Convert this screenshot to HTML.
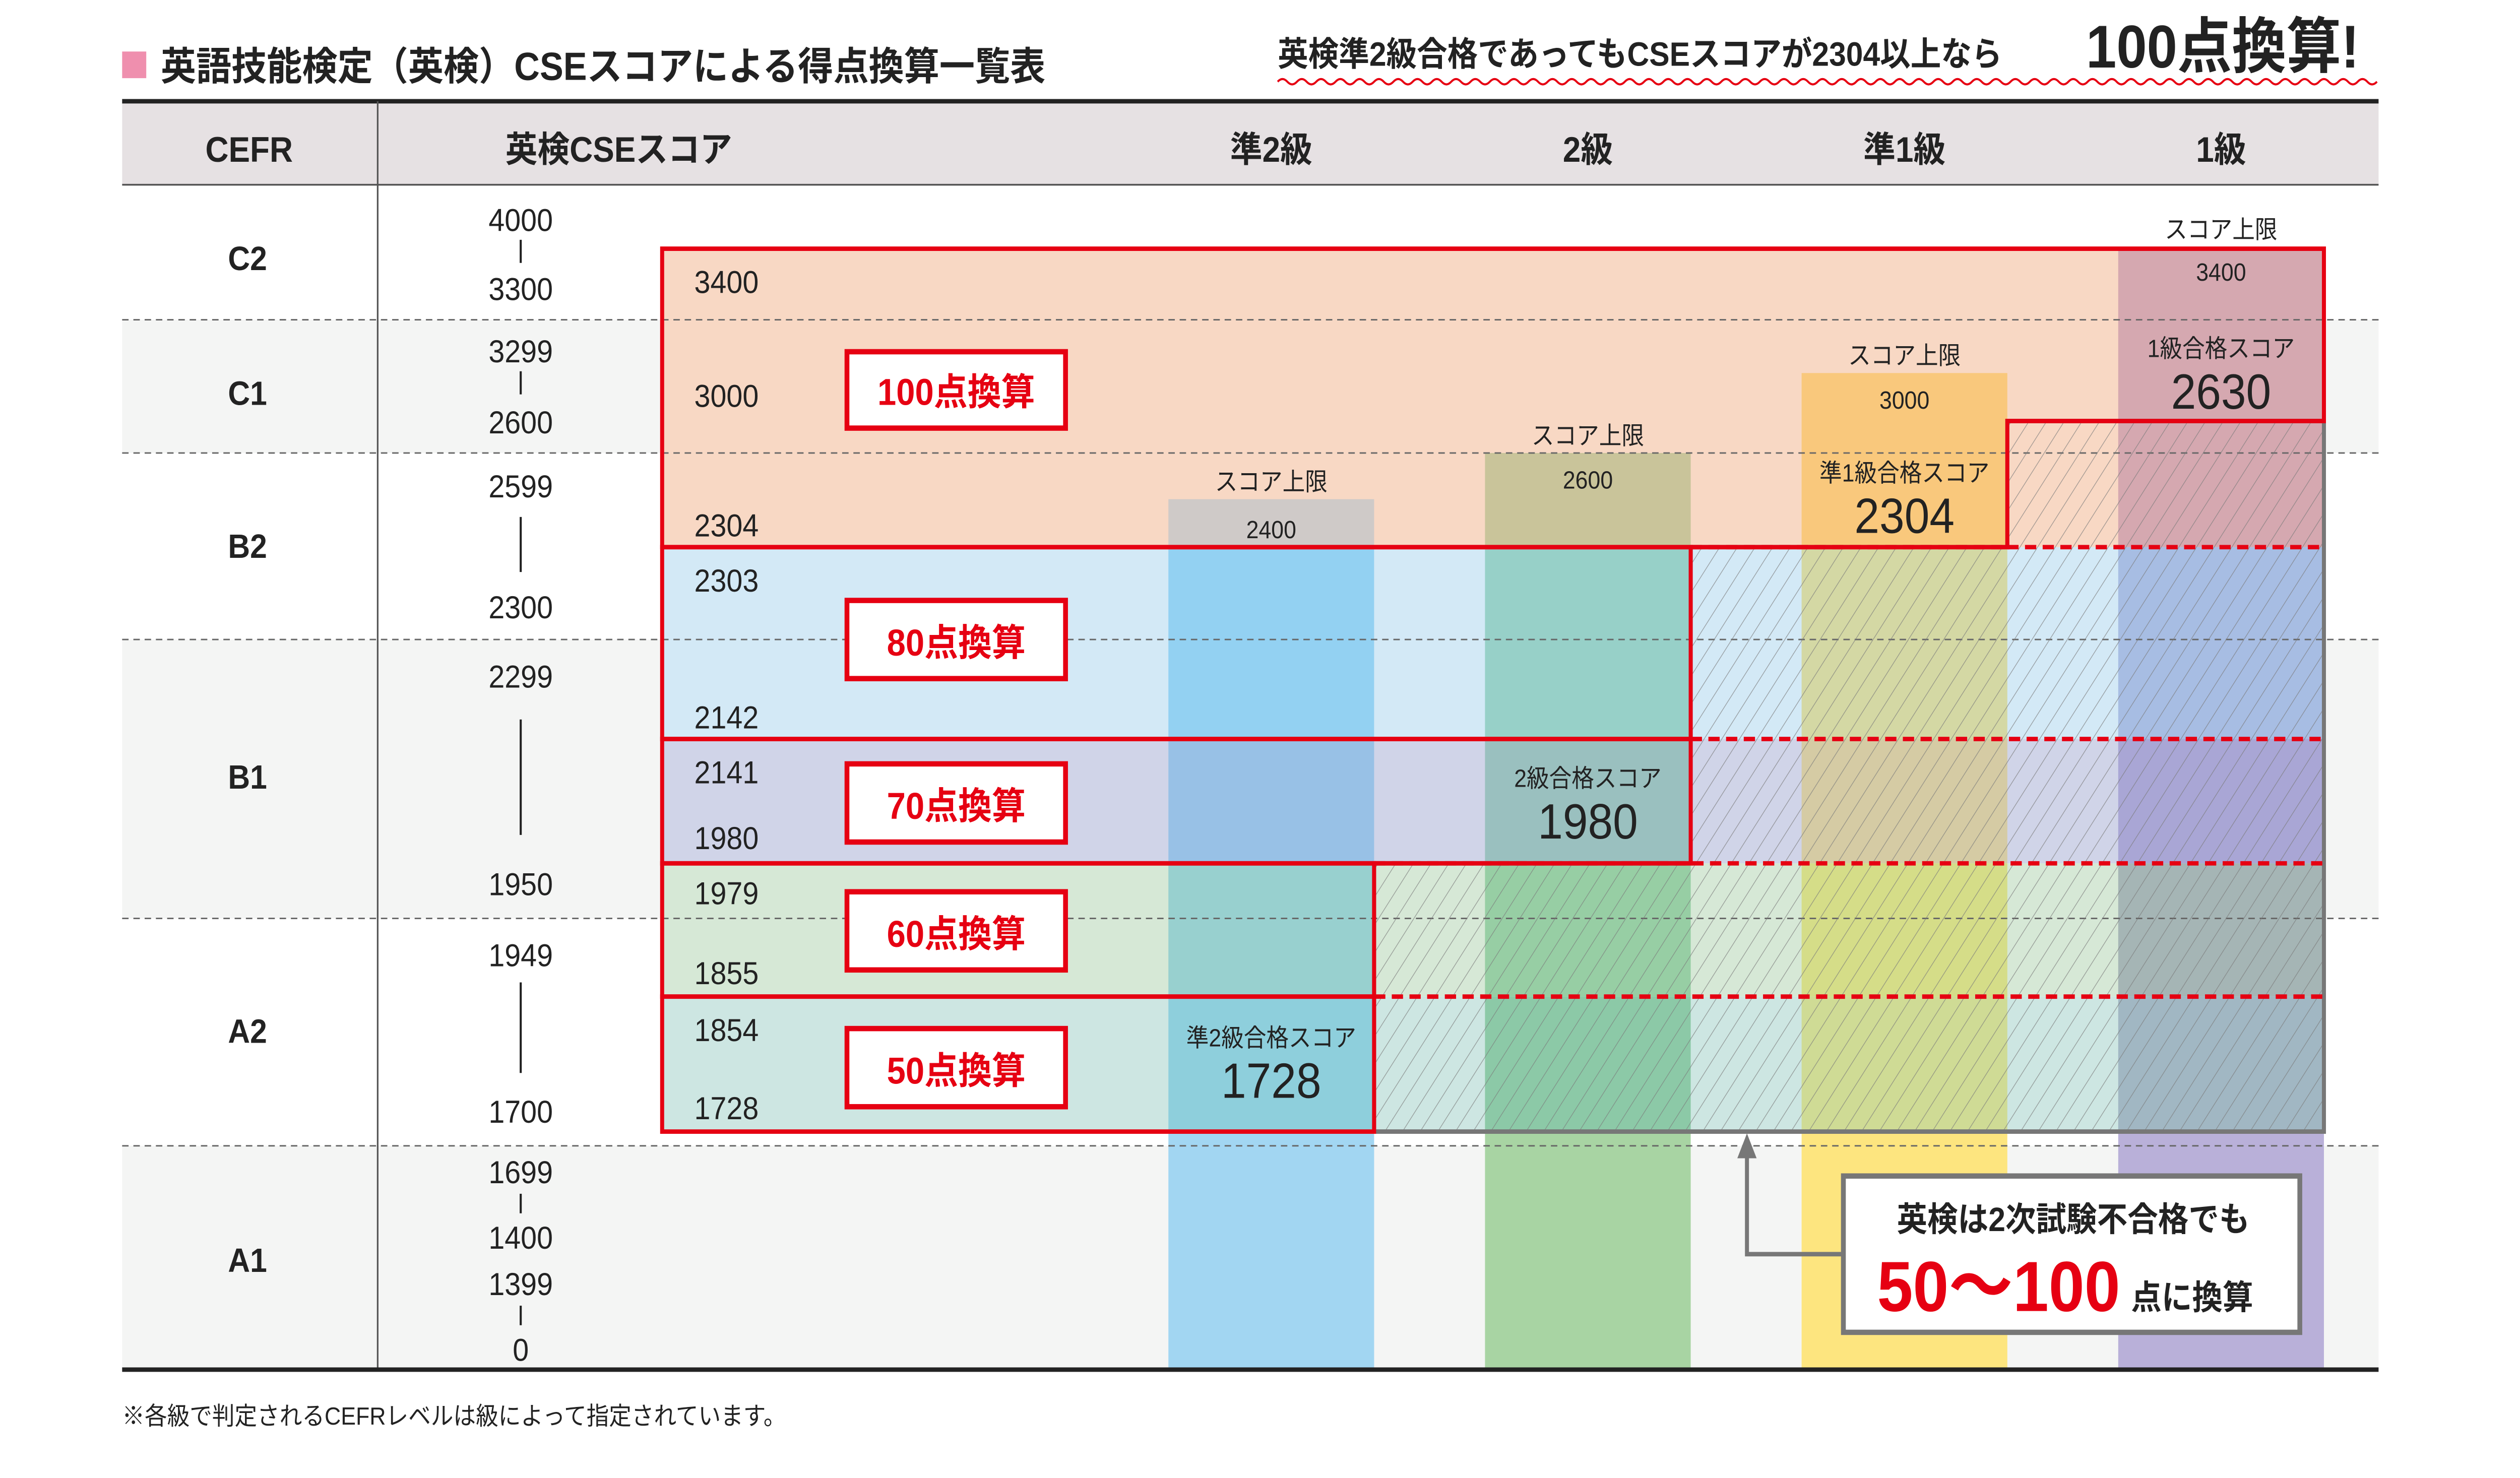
<!DOCTYPE html>
<html><head><meta charset="utf-8"><style>
html,body{margin:0;padding:0;background:#fff;overflow:hidden;width:100%;height:100%}
svg{display:block;position:fixed;left:0;top:0;width:100vw;height:100vh}
text{font-family:"Liberation Sans","Noto Sans CJK JP",sans-serif}
</style></head><body>
<svg viewBox="0 0 1568 832" preserveAspectRatio="none" xmlns="http://www.w3.org/2000/svg">
<defs>
<pattern id="h" patternUnits="userSpaceOnUse" width="9" height="9" patternTransform="rotate(35)">
<line x1="0" y1="0" x2="0" y2="9" stroke="#7a7a7a" stroke-width="0.8" opacity="0.7"/>
</pattern>
</defs>
<rect width="1568" height="832" fill="#fff"/>
<rect x="76" y="29" width="15" height="15" fill="#ef8fae"/>
<text x="100" y="45" font-size="22" font-weight="bold" fill="#222">英語技能検定（英検）CSEスコアによる得点換算一覧表</text>
<text x="795" y="37" font-size="19" font-weight="bold" fill="#222">英検準2級合格であってもCSEスコアが2304以上なら</text>
<text x="1298" y="38" font-size="34" font-weight="bold" fill="#222">100点換算!</text>
<path d="M795 46 q3 -3 6 0 t6 0 t6 0 t6 0 t6 0 t6 0 t6 0 t6 0 t6 0 t6 0 t6 0 t6 0 t6 0 t6 0 t6 0 t6 0 t6 0 t6 0 t6 0 t6 0 t6 0 t6 0 t6 0 t6 0 t6 0 t6 0 t6 0 t6 0 t6 0 t6 0 t6 0 t6 0 t6 0 t6 0 t6 0 t6 0 t6 0 t6 0 t6 0 t6 0 t6 0 t6 0 t6 0 t6 0 t6 0 t6 0 t6 0 t6 0 t6 0 t6 0 t6 0 t6 0 t6 0 t6 0 t6 0 t6 0 t6 0 t6 0 t6 0 t6 0 t6 0 t6 0 t6 0 t6 0 t6 0 t6 0 t6 0 t6 0 t6 0 t6 0 t6 0 t6 0 t6 0 t6 0 t6 0 t6 0 t6 0 t6 0 t6 0 t6 0 t6 0 t6 0 t6 0 t6 0 t6 0 t6 0 t6 0 t6 0 t6 0 t6 0 t6 0 t6 0 t6 0 t6 0 t6 0 t6 0 t6 0 t6 0 t6 0 t6 0 t6 0 t6 0 t6 0 t6 0 t6 0 t6 0 t6 0 t6 0 t6 0 t6 0 t6 0 t6 0 t6 0 t6 0" fill="none" stroke="#e60012" stroke-width="1.2"/>
<rect x="76" y="57" width="1404" height="47" fill="#e6e1e3"/>
<line x1="76" y1="57" x2="1480" y2="57" stroke="#222" stroke-width="2.5"/>
<line x1="76" y1="104" x2="1480" y2="104" stroke="#555" stroke-width="1"/>
<g font-size="20" font-weight="bold" fill="#222" text-anchor="middle">
<text x="155" y="91">CEFR</text><text x="385" y="91">英検CSEスコア</text>
<text x="791" y="91">準2級</text><text x="988" y="91">2級</text><text x="1185" y="91">準1級</text><text x="1382" y="91">1級</text>
</g>
<rect x="76" y="180" width="1404" height="75" fill="#f4f5f4"/>
<rect x="76" y="360" width="1404" height="157" fill="#f4f5f4"/>
<rect x="76" y="645" width="1404" height="126" fill="#f4f5f4"/>
<rect x="412" y="140" width="1034" height="168" fill="#f8d8c4"/>
<rect x="412" y="308" width="1034" height="108" fill="#d3e9f6"/>
<rect x="412" y="416" width="1034" height="70" fill="#d0d4e8"/>
<rect x="412" y="486" width="1034" height="75" fill="#d6e8d6"/>
<rect x="412" y="561" width="1034" height="76" fill="#cde6e2"/>
<rect x="727" y="281" width="128" height="27" fill="#cfcac8"/>
<rect x="727" y="308" width="128" height="108" fill="#93d1f2"/>
<rect x="727" y="416" width="128" height="70" fill="#98c1e6"/>
<rect x="727" y="486" width="128" height="75" fill="#98d0cf"/>
<rect x="727" y="561" width="128" height="76" fill="#8ecfdc"/>
<rect x="727" y="637" width="128" height="134" fill="#a2d6f2"/>
<rect x="924" y="255" width="128" height="53" fill="#c9c49a"/>
<rect x="924" y="308" width="128" height="108" fill="#97d0c8"/>
<rect x="924" y="416" width="128" height="70" fill="#9ac0bf"/>
<rect x="924" y="486" width="128" height="75" fill="#97cea4"/>
<rect x="924" y="561" width="128" height="76" fill="#8cc9a7"/>
<rect x="924" y="637" width="128" height="134" fill="#a8d4a3"/>
<rect x="1121" y="210" width="128" height="98" fill="#f9c87c"/>
<rect x="1121" y="308" width="128" height="108" fill="#d4d8a4"/>
<rect x="1121" y="416" width="128" height="70" fill="#d5cba4"/>
<rect x="1121" y="486" width="128" height="75" fill="#d5dd88"/>
<rect x="1121" y="561" width="128" height="76" fill="#cfdb95"/>
<rect x="1121" y="637" width="128" height="134" fill="#fde57f"/>
<rect x="1318" y="140" width="128" height="168" fill="#d5a8b0"/>
<rect x="1318" y="308" width="128" height="108" fill="#a7bde3"/>
<rect x="1318" y="416" width="128" height="70" fill="#a9a6d5"/>
<rect x="1318" y="486" width="128" height="75" fill="#a5b5b5"/>
<rect x="1318" y="561" width="128" height="76" fill="#a1b7c3"/>
<rect x="1318" y="637" width="128" height="134" fill="#b9b0d9"/>
<g stroke="#666" stroke-width="0.8" stroke-dasharray="4,3">
<line x1="76" y1="180" x2="1480" y2="180"/><line x1="76" y1="255" x2="1480" y2="255"/>
<line x1="76" y1="360" x2="1480" y2="360"/><line x1="76" y1="517" x2="1480" y2="517"/>
<line x1="76" y1="645" x2="1480" y2="645"/>
</g>
<path d="M1249 237 H1446 V637 H855 V486 H1052 V308 H1249 Z" fill="url(#h)" stroke="#777" stroke-width="2.5"/>
<g stroke="#e60012" stroke-width="2.5" stroke-dasharray="7,4">
<line x1="1249" y1="308" x2="1446" y2="308"/><line x1="1052" y1="308" x2="1249" y2="308"/>
<line x1="1052" y1="416" x2="1446" y2="416"/><line x1="855" y1="486" x2="1446" y2="486"/>
<line x1="855" y1="561" x2="1446" y2="561"/>
</g>
<g fill="none" stroke="#e60012" stroke-width="2.5">
<path d="M412 140 H1446 V237 H1249 V308 H412 Z"/>
<rect x="412" y="308" width="640" height="108"/>
<rect x="412" y="416" width="640" height="70"/>
<rect x="412" y="486" width="443" height="75"/>
<rect x="412" y="561" width="443" height="76"/>
</g>
<g fill="#fff" stroke="#e60012" stroke-width="3">
<rect x="527" y="198" width="136" height="43"/><rect x="527" y="338" width="136" height="44"/>
<rect x="527" y="430" width="136" height="44"/><rect x="527" y="502" width="136" height="44"/>
<rect x="527" y="579" width="136" height="44"/>
</g>
<g font-size="21" font-weight="bold" fill="#e60012" text-anchor="middle">
<text x="595" y="228">100点換算</text><text x="595" y="369">80点換算</text>
<text x="595" y="461">70点換算</text><text x="595" y="533">60点換算</text><text x="595" y="610">50点換算</text>
</g>
<g font-size="18" fill="#222">
<text x="432" y="165">3400</text><text x="432" y="229">3000</text><text x="432" y="302">2304</text>
<text x="432" y="333">2303</text><text x="432" y="410">2142</text><text x="432" y="441">2141</text>
<text x="432" y="478">1980</text><text x="432" y="509">1979</text><text x="432" y="554">1855</text>
<text x="432" y="586">1854</text><text x="432" y="630">1728</text>
</g>
<g fill="#222" text-anchor="middle">
<text x="791" y="276" font-size="14">スコア上限</text><text x="791" y="303" font-size="14">2400</text>
<text x="988" y="250" font-size="14">スコア上限</text><text x="988" y="275" font-size="14">2600</text>
<text x="1185" y="205" font-size="14">スコア上限</text><text x="1185" y="230" font-size="14">3000</text>
<text x="1185" y="271" font-size="14">準1級合格スコア</text><text x="1185" y="300" font-size="28">2304</text>
<text x="1382" y="134" font-size="14">スコア上限</text><text x="1382" y="158" font-size="14">3400</text>
<text x="1382" y="201" font-size="14">1級合格スコア</text><text x="1382" y="230" font-size="28">2630</text>
<text x="988" y="443" font-size="14">2級合格スコア</text><text x="988" y="472" font-size="28">1980</text>
<text x="791" y="589" font-size="14">準2級合格スコア</text><text x="791" y="618" font-size="28">1728</text>
</g>
<line x1="235" y1="57" x2="235" y2="771" stroke="#555" stroke-width="1"/>
<g font-size="19" font-weight="bold" fill="#222" text-anchor="middle">
<text x="154" y="152">C2</text><text x="154" y="228">C1</text><text x="154" y="314">B2</text>
<text x="154" y="444">B1</text><text x="154" y="587">A2</text><text x="154" y="716">A1</text>
</g>
<g font-size="18" fill="#222" text-anchor="middle">
<text x="324" y="130">4000</text><text x="324" y="169">3300</text>
<text x="324" y="204">3299</text><text x="324" y="244">2600</text>
<text x="324" y="280">2599</text><text x="324" y="348">2300</text>
<text x="324" y="387">2299</text><text x="324" y="504">1950</text>
<text x="324" y="544">1949</text><text x="324" y="632">1700</text>
<text x="324" y="666">1699</text><text x="324" y="703">1400</text>
<text x="324" y="729">1399</text><text x="324" y="766">0</text>
</g>
<g stroke="#222" stroke-width="1.3">
<line x1="324" y1="135" x2="324" y2="148"/><line x1="324" y1="209" x2="324" y2="222"/>
<line x1="324" y1="291" x2="324" y2="322"/><line x1="324" y1="405" x2="324" y2="470"/>
<line x1="324" y1="553" x2="324" y2="604"/><line x1="324" y1="672" x2="324" y2="683"/>
<line x1="324" y1="735" x2="324" y2="746"/>
</g>
<line x1="76" y1="771" x2="1480" y2="771" stroke="#222" stroke-width="2.5"/>
<text x="76" y="802" font-size="14" fill="#222">※各級で判定されるCEFRレベルは級によって指定されています。</text>
<path d="M1147 706 H1087 V648" fill="none" stroke="#777" stroke-width="2.5"/>
<path d="M1087 638 L1081 652 L1093 652 Z" fill="#777"/>
<rect x="1147" y="662" width="284" height="88" fill="#fff" stroke="#777" stroke-width="3"/>
<text x="1290" y="693" font-size="19" font-weight="bold" fill="#222" text-anchor="middle">英検は2次試験不合格でも</text>
<text x="1168" y="738" font-size="40" font-weight="bold" fill="#e60012">50〜100</text>
<text x="1326" y="737" font-size="19" font-weight="bold" fill="#222">点に換算</text>
</svg>
</body></html>
